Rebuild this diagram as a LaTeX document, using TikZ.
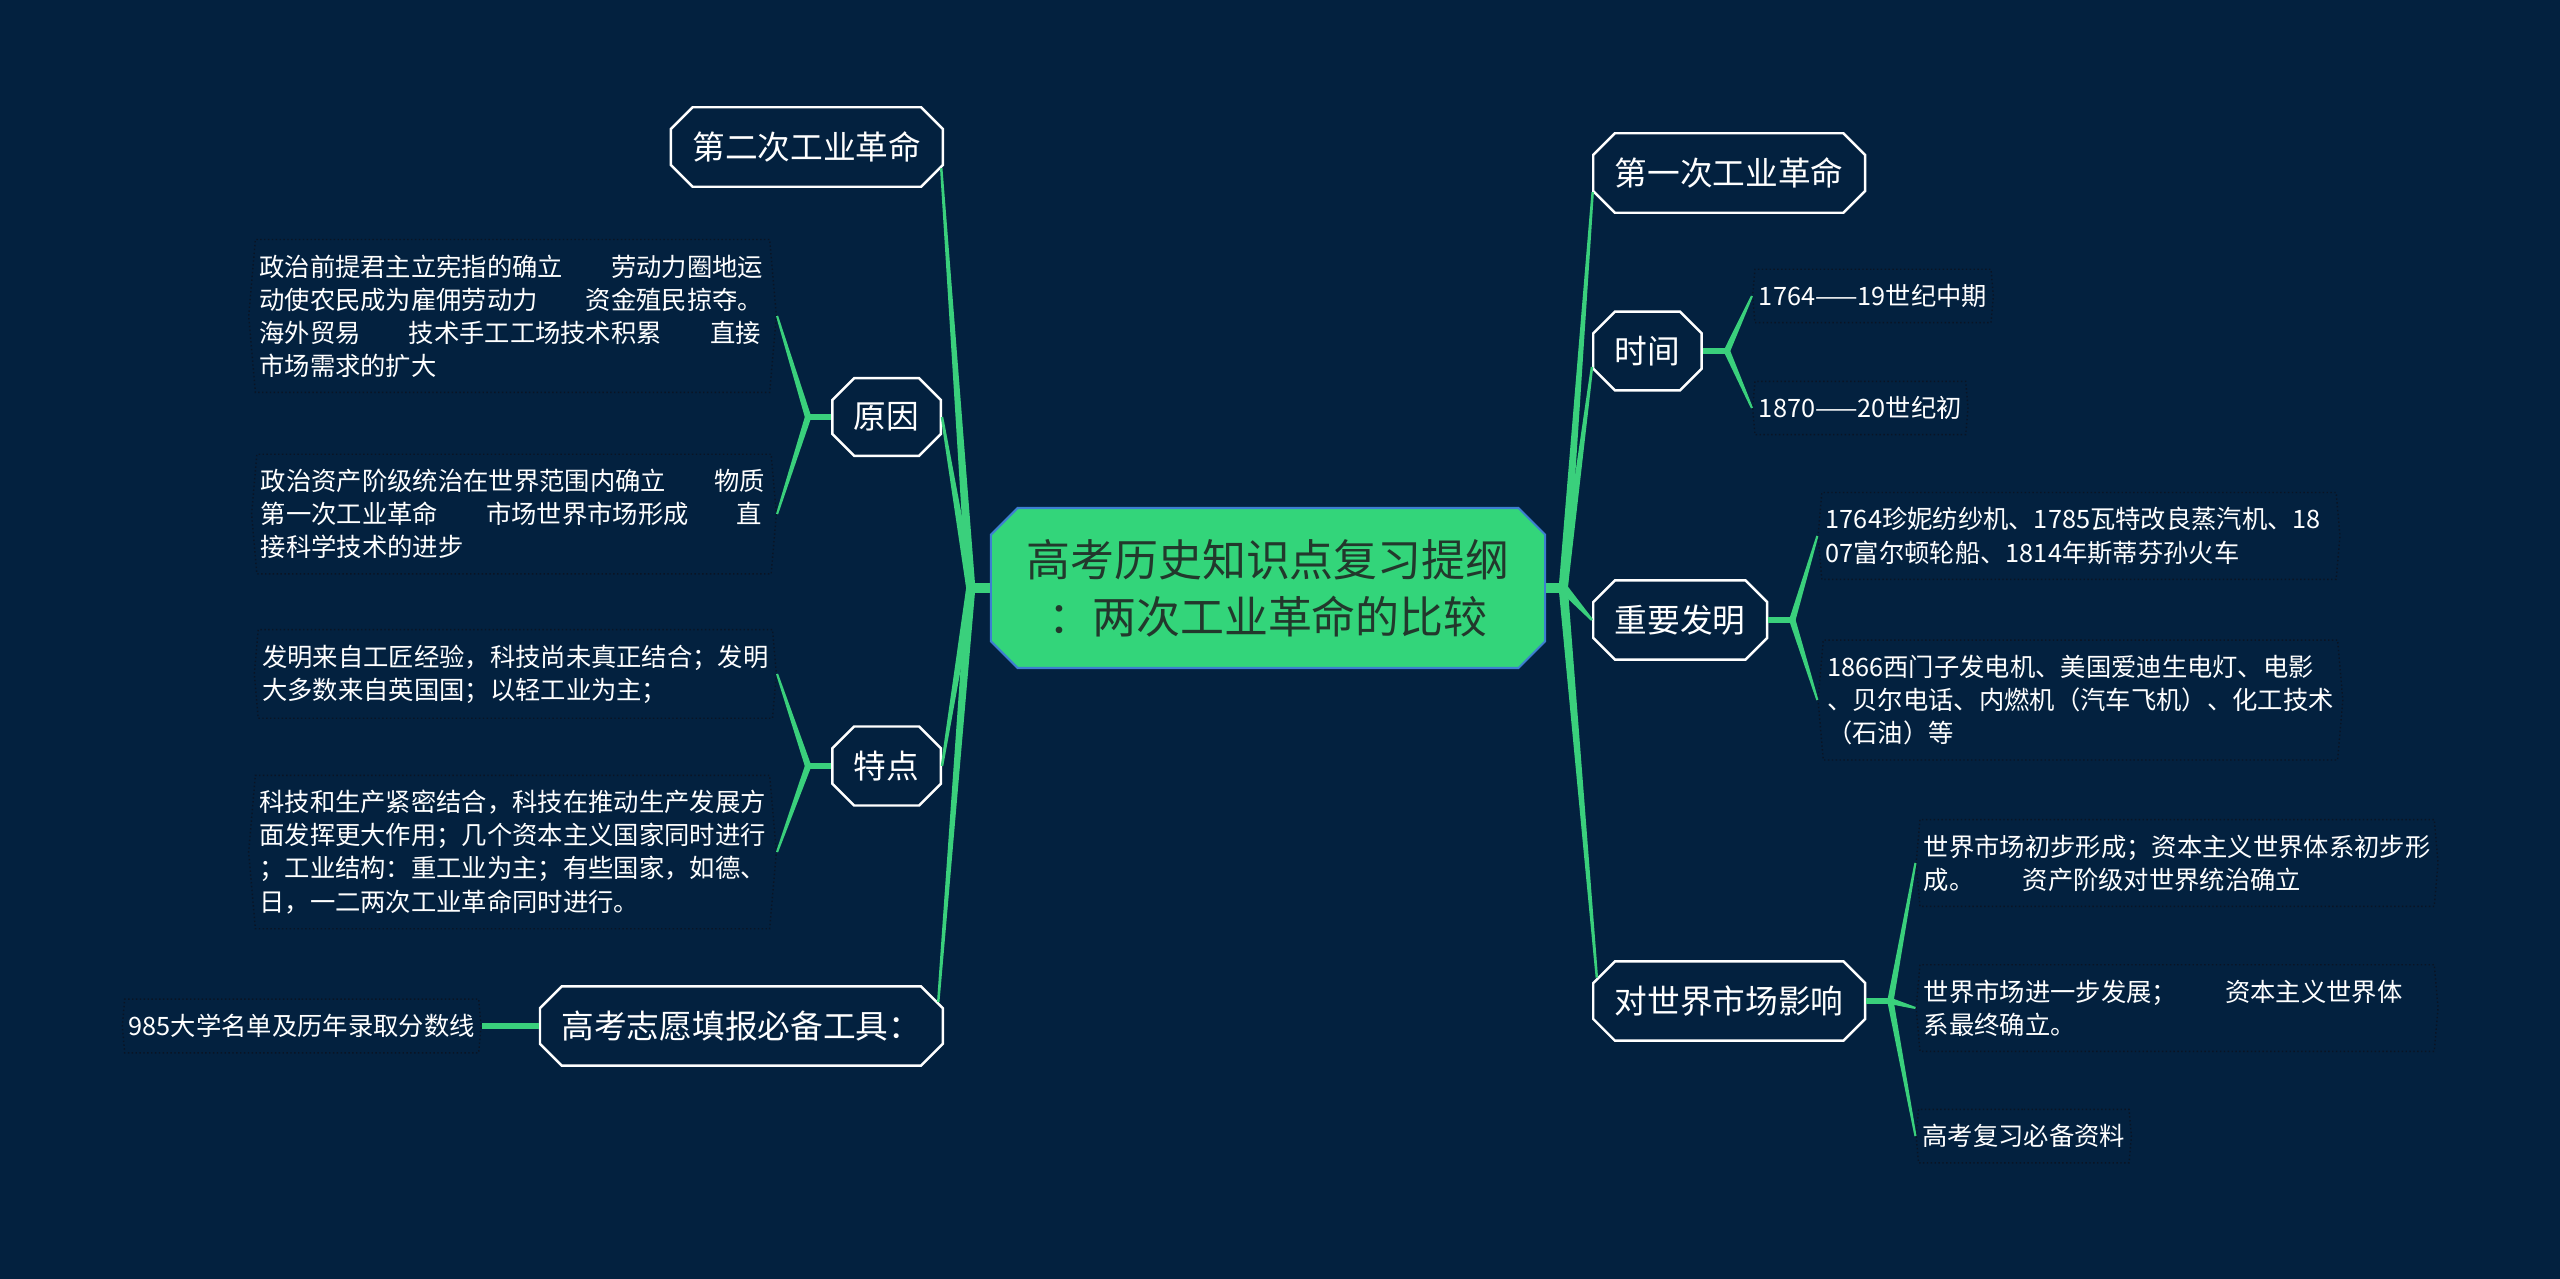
\documentclass[tikz,border=0pt]{standalone}
\usepackage{fontspec}
\setmainfont{Noto Sans CJK SC}
\usetikzlibrary{positioning, calc, shapes.misc, shapes.symbols}

\definecolor{bgnavy}{HTML}{03213F}
\definecolor{mapgreen}{HTML}{3AD07C}
\definecolor{rootgreen}{HTML}{33D57A}
\definecolor{rootblue}{HTML}{3D7FD0}
\definecolor{roottext}{HTML}{22382C}
\definecolor{leafdot}{HTML}{0A1424}

\newcommand{\bgap}{\hspace{1.9em}}
% tapered green branch: from #1 to #2, half widths #3 and #4
\newcommand{\branch}[4]{\fill[mapgreen] ($(#1)!#3!90:(#2)$) -- ($(#2)!#4!-90:(#1)$) -- ($(#2)!#4!90:(#1)$) -- ($(#1)!#3!-90:(#2)$) -- cycle;}

\begin{document}
\begin{tikzpicture}[
        x=0.01cm, y=-0.01cm,
        root/.style={chamfered rectangle, chamfered rectangle xsep=0.14cm, fill=rootgreen, draw=rootblue, line width=0.6pt, minimum width=5.54cm, minimum height=1.6cm, align=center, text=roottext, font=\fontsize{12.5pt}{16.2pt}\selectfont},
        topic/.style={chamfered rectangle, chamfered rectangle xsep=0.09cm, fill=bgnavy, draw=white, line width=0.7pt, minimum height=0.76cm, inner xsep=0.125cm, text=white, font=\fontsize{9.3pt}{11pt}\selectfont},
        leaf/.style={signal, signal to=east and west, signal pointer angle=170, draw=leafdot, line width=0.4pt, dash pattern=on 0.4pt off 0.7pt, inner xsep=0.04cm, inner ysep=0.15cm, align=left, text=white, font=\fontsize{7.2pt}{9.4pt}\selectfont},
        wideleaf/.style={leaf, text width=5.06cm},
        stub/.style={mapgreen, line width=2.8pt},
        substub/.style={mapgreen, line width=1.7pt}
    ]
    \fill[bgnavy] (0,0) rectangle (2560,1279);

    \node[root] (root) at (1268,588) {高考历史知识点复习提纲\\：两次工业革命的比较};

    % left side
    \node[topic, anchor=east] (sec) at (944,147) {第二次工业革命};
    \node[topic, anchor=east] (reason) at (942,417) {原因};
    \node[topic, anchor=east] (feat) at (942,766) {特点};
    \node[topic, anchor=east] (tool) at (944,1026) {高考志愿填报必备工具：};

    % right side
    \node[topic, anchor=west] (first) at (1592,173) {第一次工业革命};
    \node[topic, anchor=west] (time) at (1592,351) {时间};
    \node[topic, anchor=west] (invent) at (1592,620) {重要发明};
    \node[topic, anchor=west] (world) at (1592,1001) {对世界市场影响};

    \coordinate[left=0.19cm of root] (jleft);
    \coordinate[right=0.17cm of root] (jright);
    \coordinate[left=0.23cm of reason] (jreason);
    \coordinate[left=0.23cm of feat] (jfeat);
    \coordinate[right=0.24cm of time] (jtime);
    \coordinate[right=0.24cm of invent] (jinv);
    \coordinate[right=0.24cm of world] (jworld);

    % leaves
    \node[wideleaf, left=0.31cm of jreason, yshift=1.01cm] (rsa) {政治前提君主立宪指的确立\bgap 劳动力圈地运\\动使农民成为雇佣劳动力\bgap 资金殖民掠夺。\\海外贸易\bgap 技术手工工场技术积累\bgap 直接\\市场需求的扩大};
    \node[wideleaf, left=0.31cm of jreason, yshift=-0.97cm] (rsb) {政治资产阶级统治在世界范围内确立\bgap 物质\\第一次工业革命\bgap 市场世界市场形成\bgap 直\\接科学技术的进步};
    \node[wideleaf, left=0.31cm of jfeat, yshift=0.92cm] (fta) {发明来自工匠经验，科技尚未真正结合；发明\\大多数来自英国国；以轻工业为主；};
    \node[wideleaf, left=0.31cm of jfeat, yshift=-0.86cm] (ftb) {科技和生产紧密结合，科技在推动生产发展方\\面发挥更大作用；几个资本主义国家同时进行\\；工业结构：重工业为主；有些国家，如德、\\日，一二两次工业革命同时进行。};
    \node[leaf, left=0.57cm of tool] (toolleaf) {985大学名单及历年录取分数线};

    \node[leaf, right=0.25cm of jtime, yshift=0.55cm] (ta) {1764——19世纪中期};
    \node[leaf, right=0.25cm of jtime, yshift=-0.57cm] (tb) {1870——20世纪初};
    \node[wideleaf, right=0.25cm of jinv, yshift=0.84cm] (iva) {1764珍妮纺纱机、1785瓦特改良蒸汽机、18\\07富尔顿轮船、1814年斯蒂芬孙火车};
    \node[wideleaf, right=0.25cm of jinv, yshift=-0.80cm] (ivb) {1866西门子发电机、美国爱迪生电灯、电影\\、贝尔电话、内燃机（汽车飞机）、化工技术\\（石油）等};
    \node[wideleaf, right=0.25cm of jworld, yshift=1.38cm] (wda) {世界市场初步形成；资本主义世界体系初步形\\成。\bgap 资产阶级对世界统治确立};
    \node[wideleaf, right=0.25cm of jworld, yshift=-0.07cm] (wdb) {世界市场进一步发展；\bgap 资本主义世界体\\系最终确立。};
    \node[leaf, right=0.25cm of jworld, yshift=-1.35cm] (wdc) {高考复习必备资料};

    % main branches
    \draw[stub] (root.west) -- (jleft);
    \draw[stub] (root.east) -- (jright);
    \branch{jleft}{sec.351}{1.3pt}{0.35pt}
    \branch{jleft}{reason.east}{1.3pt}{0.35pt}
    \branch{jleft}{feat.east}{1.3pt}{0.35pt}
    \branch{jleft}{tool.7}{1.3pt}{0.35pt}
    \branch{jright}{first.188}{1.3pt}{0.35pt}
    \branch{jright}{time.196}{1.3pt}{0.35pt}
    \branch{jright}{invent.west}{1.3pt}{0.35pt}
    \branch{jright}{world.170}{1.3pt}{0.35pt}

    % sub branches
    \draw[substub] (reason.west) -- (jreason);
    \branch{jreason}{rsa.east}{0.9pt}{0.3pt}
    \branch{jreason}{rsb.east}{0.9pt}{0.3pt}
    \draw[substub] (feat.west) -- (jfeat);
    \branch{jfeat}{fta.east}{0.9pt}{0.3pt}
    \branch{jfeat}{ftb.east}{0.9pt}{0.3pt}
    \draw[substub] (time.east) -- (jtime);
    \branch{jtime}{ta.west}{0.9pt}{0.3pt}
    \branch{jtime}{tb.west}{0.9pt}{0.3pt}
    \draw[substub] (invent.east) -- (jinv);
    \branch{jinv}{iva.west}{0.9pt}{0.3pt}
    \branch{jinv}{ivb.west}{0.9pt}{0.3pt}
    \draw[substub] (world.east) -- (jworld);
    \branch{jworld}{wda.west}{0.9pt}{0.3pt}
    \branch{jworld}{wdb.west}{0.9pt}{0.3pt}
    \branch{jworld}{wdc.west}{0.9pt}{0.3pt}
    \draw[substub] (tool.west) -- (toolleaf.east);
\end{tikzpicture}
\end{document}
